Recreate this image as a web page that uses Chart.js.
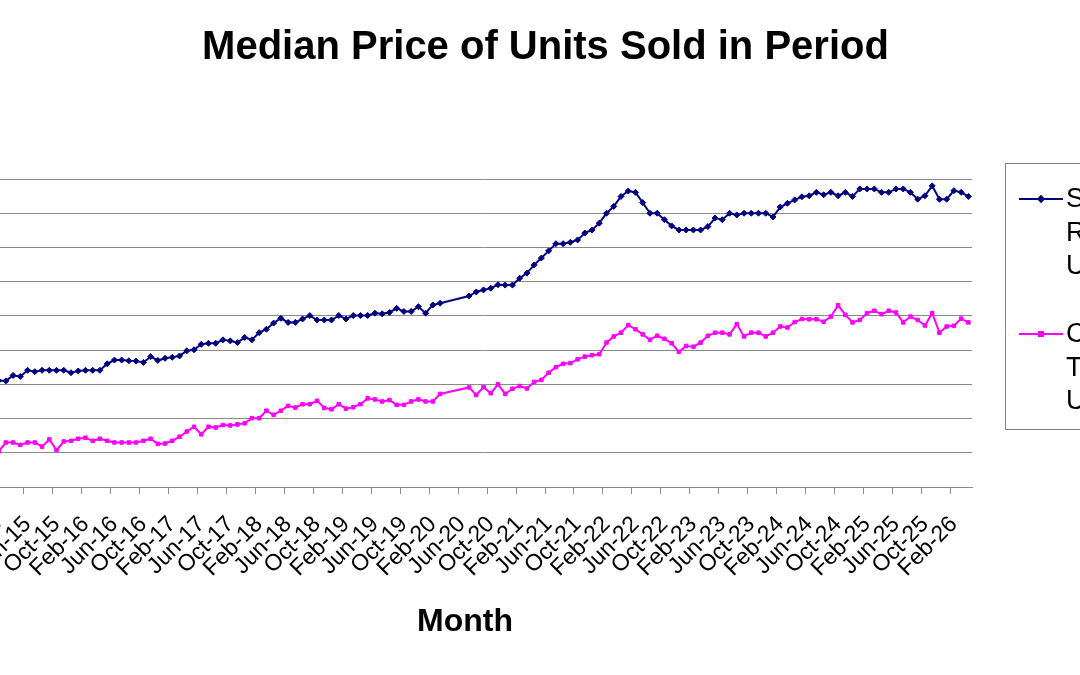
<!DOCTYPE html>
<html>
<head>
<meta charset="utf-8">
<script src="https://cdn.jsdelivr.net/npm/chart.js@4"></script>
<style>
  html, body {
    margin: 0;
    padding: 0;
    width: 1080px;
    height: 675px;
    overflow: hidden;
    background: #fff;
    font-family: "Liberation Sans", Arial, sans-serif;
  }
  #chart {
    position: absolute;
    left: -100px;
    top: 0;
  }
  .label {
    position: absolute;
    color: #000;
    white-space: nowrap;
  }
  #title {
    left: 0;
    width: 1091px;
    top: 25px;
    text-align: center;
    font-weight: bold;
    font-size: 40px;
    line-height: 40px;
  }
  #axis-title {
    left: 0;
    width: 930px;
    top: 604px;
    text-align: center;
    font-weight: bold;
    font-size: 32px;
    line-height: 32px;
  }
  #legend {
    position: absolute;
    left: 1005px;
    top: 163px;
    width: 240px;
    height: 267px;
    border: 1px solid #808080;
    box-sizing: border-box;
  }
  .swatch {
    position: absolute;
    left: 13px;
    width: 44px;
    height: 2px;
  }
  .swatch span {
    position: absolute;
    left: 19px;
    top: -2px;
    width: 6px;
    height: 6px;
  }
  .entry {
    position: absolute;
    left: 60px;
    font-size: 27px;
    line-height: 33.5px;
    white-space: nowrap;
  }
</style>
</head>
<body>
<canvas id="chart" width="1180" height="675"></canvas>
<div id="title" class="label">Median Price of Units Sold in Period</div>
<div id="axis-title" class="label">Month</div>
<div id="legend">
  <div class="swatch" style="top:34px;background:#000080"><span style="background:#000080;transform:rotate(45deg)"></span></div>
  <div class="entry" style="top:18px">Single-Family<br>Residential<br>Units</div>
  <div class="swatch" style="top:169px;background:#ff00ff"><span style="background:#ff00ff"></span></div>
  <div class="entry" style="top:153px">Condo/<br>Townhouse<br>Units</div>
</div>
<script>
// month categories, Feb-15 .. Apr-26
const months = [
    'Feb-15', 'Mar-15', 'Apr-15', 'May-15', 'Jun-15', 'Jul-15', 'Aug-15', 'Sep-15', 'Oct-15', 'Nov-15', 'Dec-15',
    'Jan-16', 'Feb-16', 'Mar-16', 'Apr-16', 'May-16', 'Jun-16', 'Jul-16', 'Aug-16', 'Sep-16', 'Oct-16', 'Nov-16', 'Dec-16',
    'Jan-17', 'Feb-17', 'Mar-17', 'Apr-17', 'May-17', 'Jun-17', 'Jul-17', 'Aug-17', 'Sep-17', 'Oct-17', 'Nov-17', 'Dec-17',
    'Jan-18', 'Feb-18', 'Mar-18', 'Apr-18', 'May-18', 'Jun-18', 'Jul-18', 'Aug-18', 'Sep-18', 'Oct-18', 'Nov-18', 'Dec-18',
    'Jan-19', 'Feb-19', 'Mar-19', 'Apr-19', 'May-19', 'Jun-19', 'Jul-19', 'Aug-19', 'Sep-19', 'Oct-19', 'Nov-19', 'Dec-19',
    'Jan-20', 'Feb-20', 'Mar-20', 'Apr-20', 'May-20', 'Jun-20', 'Jul-20', 'Aug-20', 'Sep-20', 'Oct-20', 'Nov-20', 'Dec-20',
    'Jan-21', 'Feb-21', 'Mar-21', 'Apr-21', 'May-21', 'Jun-21', 'Jul-21', 'Aug-21', 'Sep-21', 'Oct-21', 'Nov-21', 'Dec-21',
    'Jan-22', 'Feb-22', 'Mar-22', 'Apr-22', 'May-22', 'Jun-22', 'Jul-22', 'Aug-22', 'Sep-22', 'Oct-22', 'Nov-22', 'Dec-22',
    'Jan-23', 'Feb-23', 'Mar-23', 'Apr-23', 'May-23', 'Jun-23', 'Jul-23', 'Aug-23', 'Sep-23', 'Oct-23', 'Nov-23', 'Dec-23',
    'Jan-24', 'Feb-24', 'Mar-24', 'Apr-24', 'May-24', 'Jun-24', 'Jul-24', 'Aug-24', 'Sep-24', 'Oct-24', 'Nov-24', 'Dec-24',
    'Jan-25', 'Feb-25', 'Mar-25', 'Apr-25', 'May-25', 'Jun-25', 'Jul-25', 'Aug-25', 'Sep-25', 'Oct-25', 'Nov-25', 'Dec-25',
    'Jan-26', 'Feb-26', 'Mar-26', 'Apr-26'
];

// median price, $ thousands (Apr-Jun 2020 not reported)
const singleFamily = [
    311, 310, 326, 323, 341, 337, 341, 341, 341, 341, 334,
    339, 341, 341, 341, 360, 371, 371, 369, 368, 364, 381, 370,
    376, 379, 383, 398, 401, 417, 420, 420, 430, 427, 422, 437,
    430, 451, 461, 479, 493, 481, 481, 491, 501, 488, 488, 488,
    501, 491, 501, 501, 501, 508, 506, 510, 522, 513, 513, 527,
    508, 532, 537, null, null, null, 558, 570, 576, 581, 591, 590,
    590, 610, 625, 649, 669, 690, 711, 711, 715, 722, 742, 751,
    771, 800, 820, 849, 865, 861, 831, 800, 800, 781, 763, 751,
    751, 751, 751, 761, 786, 781, 800, 795, 800, 800, 800, 800,
    789, 818, 829, 839, 848, 851, 861, 854, 861, 851, 861, 849,
    871, 871, 871, 861, 861, 871, 871, 861, 841, 851, 880, 841,
    841, 866, 861, 849
];

const condoTownhouse = [
    104, 130, 130, 123, 130, 130, 118, 139, 108, 133, 135,
    141, 144, 135, 141, 135, 130, 130, 130, 130, 135, 141, 126,
    127, 135, 147, 162, 176, 154, 176, 174, 181, 180, 183, 186,
    201, 201, 223, 211, 223, 237, 232, 242, 242, 252, 231, 227,
    242, 229, 233, 242, 259, 256, 250, 254, 240, 240, 250, 256,
    250, 250, 272, null, null, null, 291, 269, 292, 274, 300, 272,
    287, 295, 288, 307, 313, 334, 350, 360, 362, 373, 381, 385,
    388, 422, 440, 451, 473, 461, 446, 430, 442, 433, 420, 395,
    412, 410, 422, 442, 451, 451, 446, 476, 440, 451, 451, 440,
    451, 469, 466, 482, 491, 490, 490, 483, 498, 531, 503, 481,
    488, 508, 515, 505, 515, 510, 481, 498, 488, 472, 508, 451,
    469, 471, 492, 481
];

const yMin = 0;
const yMax = 900;
const yStep = 100;
const labelEvery = 4;

const gridGray = '#8a8a8a';

const ctx = document.getElementById('chart').getContext('2d');
new Chart(ctx, {
    type: 'line',
    data: {
        labels: months,
        datasets: [{
            label: 'Single-Family Residential Units',
            data: singleFamily,
            borderColor: '#000080',
            backgroundColor: '#000080',
            borderWidth: 2,
            pointStyle: 'rectRot',
            pointRadius: 3,
            pointHoverRadius: 3,
            pointBorderWidth: 1,
            tension: 0,
            spanGaps: true
        }, {
            label: 'Condo/Townhouse Units',
            data: condoTownhouse,
            borderColor: '#ff00ff',
            backgroundColor: '#ff00ff',
            borderWidth: 2,
            pointStyle: 'rect',
            pointRadius: 2.5,
            pointHoverRadius: 2.5,
            pointBorderWidth: 1,
            tension: 0,
            spanGaps: true
        }]
    },
    options: {
        responsive: false,
        animation: false,
        layout: {
            padding: { left: 95, right: 108, top: 179, bottom: 68 }
        },
        plugins: {
            legend: { display: false },
            title: { display: false },
            tooltip: { enabled: false }
        },
        scales: {
            x: {
                offset: true,
                afterFit: scale => { scale.height = 120; },
                border: { color: gridGray, width: 1 },
                grid: {
                    offset: true,
                    drawOnChartArea: false,
                    drawTicks: true,
                    tickLength: 7,
                    color: c => (c.index % labelEvery === 0 ? gridGray : 'rgba(0,0,0,0)')
                },
                ticks: {
                    autoSkip: false,
                    minRotation: 45,
                    maxRotation: 45,
                    padding: 17,
                    color: '#000',
                    font: { family: '"Liberation Sans", Arial, sans-serif', size: 23 },
                    callback: (value, index) => (index % labelEvery === 0 ? months[index] : '')
                }
            },
            y: {
                min: yMin,
                max: yMax,
                afterFit: scale => { scale.width = 0; },
                border: { display: false },
                grid: { color: gridGray, lineWidth: 1, drawTicks: false },
                ticks: { stepSize: yStep, display: false }
            }
        }
    }
});
</script>
</body>
</html>
